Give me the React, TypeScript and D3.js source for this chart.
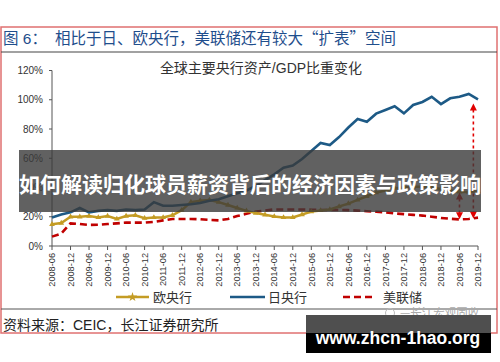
import React from 'react';
import * as d3 from 'd3';

const quarters: string[] = [
  '2008-06','2008-09','2008-12','2009-03','2009-06','2009-09','2009-12','2010-03',
  '2010-06','2010-09','2010-12','2011-03','2011-06','2011-09','2011-12','2012-03',
  '2012-06','2012-09','2012-12','2013-03','2013-06','2013-09','2013-12','2014-03',
  '2014-06','2014-09','2014-12','2015-03','2015-06','2015-09','2015-12','2016-03',
  '2016-06','2016-09','2016-12','2017-03','2017-06','2017-09','2017-12','2018-03',
  '2018-06','2018-09','2018-12','2019-03','2019-06','2019-09','2019-12',
];

// 欧央行
const ecb: number[] = [
  14.8, 15.7, 20.0, 20.0, 20.5, 19.5, 20.5, 18.5, 20.5, 21.0, 19.0, 19.5,
  19.5, 21.0, 24.5, 30.0, 31.0, 31.5, 30.0, 28.0, 26.0, 24.0, 22.5, 21.3,
  20.2, 19.5, 19.5, 21.5, 23.5, 24.3, 25.0, 27.0, 29.0, 31.5, 34.0, 36.5,
  38.0, 39.5, 40.0, 40.5, 40.5, 40.0, 39.0, 38.0, 37.0, 37.0, 37.5,
];
// 日央行
const boj: number[] = [
  19.5, 21.5, 23.0, 26.0, 23.0, 24.0, 24.5, 24.0, 25.0, 24.5, 25.0, 30.0,
  27.5, 27.5, 28.0, 28.5, 29.4, 31.0, 32.0, 34.0, 36.0, 38.0, 41.0, 45.0,
  49.0, 53.5, 55.0, 59.5, 65.0, 70.5, 69.0, 74.5, 81.0, 86.8, 85.0, 90.5,
  93.0, 95.5, 90.7, 96.4, 98.5, 102.0, 97.0, 101.0, 102.0, 104.0, 100.3,
];
// 美联储
const fed: number[] = [
  6.4, 8.5, 15.5, 15.0, 14.4, 14.5, 15.0, 15.5, 16.0, 16.0, 16.0, 16.5,
  17.5, 18.5, 18.5, 18.5, 18.3, 17.8, 17.5, 18.5, 20.5, 22.0, 23.5, 24.3,
  25.0, 25.0, 25.0, 25.0, 24.8, 24.6, 24.6, 24.6, 24.5, 24.2, 23.8, 23.4,
  23.0, 22.3, 21.8, 21.3, 20.8, 20.0, 19.2, 18.6, 18.2, 18.5, 19.4,
];

const yTicks: number[] = [0, 20, 40, 60, 80, 100, 120];
const legendNames: string[] = ['欧央行', '日央行', '美联储'];
// arrows: quarter index position, bottom value, top value
const arrowPos: number[] = [44, 45.5];
const arrowFrom: number[] = [18.3, 18.8];
const arrowTo: number[] = [36.5, 97.5];

const titleText = '相比于日、欧央行，美联储还有较大“扩表”空间';
const subTitle = '全球主要央行资产/GDP比重变化';
const sourceText = '资料来源：CEIC，长江证券研究所';
const bannerText = '如何解读归化球员薪资背后的经济因素与政策影响';
const siteText = 'www.zhcn-1hao.org';

const C_ECB = '#C49C24';
const C_BOJ = '#1D5A86';
const C_FED = '#C00000';
const CJK = "'Noto Sans CJK SC', sans-serif";
const LAT = "'Liberation Sans', 'Noto Sans CJK SC', sans-serif";

export default function App() {
  const x = d3.scaleLinear().domain([0, quarters.length - 1]).range([52, 478]);
  const y = d3.scaleLinear().domain([0, 120]).range([246, 70.5]);
  const line = d3
    .line<number>()
    .x((_, i) => x(i))
    .y((d) => y(d));
  const tri = d3.symbol().type(d3.symbolTriangle).size(14)() as string;
  const triLeg = d3.symbol().type(d3.symbolStar).size(28)() as string;
  const tickIdx = quarters.map((q, i) => i).filter((i) => i % 2 === 0);

  return (
    <svg
      width={500}
      height={362}
      style={{ position: 'absolute', left: 0, top: 0, background: '#fff' }}
    >
      <rect x={0} y={0} width={500} height={362} fill="#fff" />
      {/* frame */}
      <rect x={1} y={27} width={496} height={306} fill="none" stroke="#E07070" strokeWidth={1.5} />
      <text x={3} y={44} fontFamily={LAT} fontSize={15.5} fill="#1F4E8C">图 6：</text>
      <text x={55} y={44} fontFamily={CJK} fontSize={15.5} fill="#1F4E8C">{titleText}</text>
      <line x1={1} x2={497} y1={52} y2={52} stroke="#444" strokeWidth={1.2} />
      <text x={261} y={73} textAnchor="middle" fontFamily={LAT} fontSize={14} fill="#333">{subTitle}</text>

      {/* y axis */}
      <line x1={52} x2={52} y1={y(120)} y2={y(0)} stroke="#555" strokeWidth={1} />
      {yTicks.map((t) => (
        <g key={t}>
          <line x1={49} x2={52} y1={y(t)} y2={y(t)} stroke="#555" />
          <text x={43} y={y(t)} dy="0.35em" textAnchor="end" fontFamily={LAT} fontSize={10} fill="#333">
            {t}%
          </text>
        </g>
      ))}
      {/* x axis */}
      <line x1={52} x2={478} y1={y(0)} y2={y(0)} stroke="#555" strokeWidth={1} />
      {tickIdx.map((i) => (
        <g key={i}>
          <line x1={x(i)} x2={x(i)} y1={246} y2={250} stroke="#555" />
          <text
            transform={`translate(${x(i)},253) rotate(-90)`}
            dy="0.35em"
            textAnchor="end"
            fontFamily={LAT}
            fontSize={9.2}
            fill="#333"
          >
            {quarters[i]}
          </text>
        </g>
      ))}

      {/* series */}
      <path d={line(fed) as string} fill="none" stroke={C_FED} strokeWidth={2.6} strokeDasharray="7,4" />
      <path d={line(ecb) as string} fill="none" stroke={C_ECB} strokeWidth={2.5} />
      {ecb.map((v, i) => (
        <path key={i} d={tri} transform={`translate(${x(i)},${y(v)})`} fill={C_ECB} />
      ))}
      <path d={line(boj) as string} fill="none" stroke={C_BOJ} strokeWidth={2.6} />

      {/* arrows */}
      {arrowPos.map((p, k) => {
        const ax = x(p);
        const y0 = y(arrowFrom[k]);
        const y1 = y(arrowTo[k]);
        return (
          <g key={k}>
            <line x1={ax} x2={ax} y1={y1 + 6} y2={y0 - 6} stroke="#E00000" strokeWidth={1.6} strokeDasharray="3,3" />
            <path d={`M${ax - 3.5},${y1 + 7} L${ax + 3.5},${y1 + 7} L${ax},${y1} Z`} fill="#E00000" />
            <path d={`M${ax - 3.5},${y0 - 7} L${ax + 3.5},${y0 - 7} L${ax},${y0} Z`} fill="#E00000" />
          </g>
        );
      })}

      {/* legend */}
      <g>
        <line x1={116} x2={149} y1={297} y2={297} stroke={C_ECB} strokeWidth={2.5} />
        <path d={triLeg} transform="translate(132.5,297)" fill={C_ECB} />
        <text x={153} y={297} dy="0.36em" fontFamily={CJK} fontSize={13} fill="#333">{legendNames[0]}</text>
        <line x1={230} x2={265} y1={297} y2={297} stroke={C_BOJ} strokeWidth={2.5} />
        <text x={268} y={297} dy="0.36em" fontFamily={CJK} fontSize={13} fill="#333">{legendNames[1]}</text>
        <line x1={343} x2={374} y1={297} y2={297} stroke={C_FED} strokeWidth={2.6} strokeDasharray="7,4" />
        <text x={383} y={297} dy="0.36em" fontFamily={CJK} fontSize={13} fill="#333">{legendNames[2]}</text>
      </g>
      <line x1={1} x2={497} y1={309} y2={309} stroke="#555" strokeWidth={1} />
      <text x={3} y={330} fontFamily={LAT} fontSize={14} fill="#222">{sourceText}</text>

      {/* faint watermark */}
      <circle cx={390} cy={313} r={4.5} fill="none" stroke="#bbb" strokeWidth={1} />
      <text x={400} y={317} fontFamily={CJK} fontSize={11.5} fill="#aaa">—长江宏观固收</text>

      {/* overlay banner */}
      <rect x={19} y={150} width={462} height={62} fill="#3a3a3a" opacity={0.8} />
      <text x={250} y={192} textAnchor="middle" fontFamily={CJK} fontWeight={700} fontSize={21} fill="#fff">
        {bannerText}
      </text>

      {/* site box */}
      <rect x={306} y={315} width={185} height={18} fill="#4f4f4f" />
      <rect x={306} y={333} width={185} height={20} fill="#000" />
      <text x={398} y={344} textAnchor="middle" fontFamily={LAT} fontWeight={700} fontSize={17.5} fill="#fff">
        {siteText}
      </text>
    </svg>
  );
}
